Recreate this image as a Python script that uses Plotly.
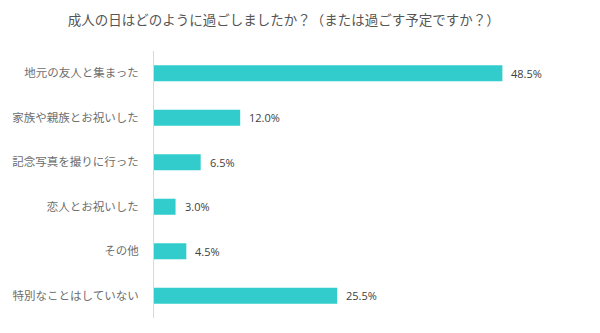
import plotly.graph_objects as go

# Survey answers (top to bottom) and share of respondents in %
categories = [
    "地元の友人と集まった",
    "家族や親族とお祝いした",
    "記念写真を撮りに行った",
    "恋人とお祝いした",
    "その他",
    "特別なことはしていない",
]
values = [48.5, 12.0, 6.5, 3.0, 4.5, 25.5]
title_text = "成人の日はどのように過ごしましたか？（または過ごす予定ですか？）"

BAR_COLOR = "#33CCCC"
JP_FONT = "Noto Sans CJK JP"

fig = go.Figure(
    go.Bar(
        x=values,
        y=categories,
        orientation="h",
        marker=dict(color=BAR_COLOR, line=dict(width=0)),
        width=0.36,
        hoverinfo="skip",
    )
)

# value labels just to the right of each bar end
for cat, val in zip(categories, values):
    fig.add_annotation(
        x=val, y=cat, text=f"{val:.1f}%",
        xanchor="left", yanchor="middle", xshift=7, showarrow=False,
        font=dict(family="Open Sans", size=11, color="#404040"),
    )

fig.update_layout(
    width=600, height=333,
    margin=dict(l=150, r=15, t=51, b=15),
    paper_bgcolor="white", plot_bgcolor="white",
    showlegend=False,
    title=dict(
        text=title_text, x=0.473, xanchor="center", y=0.94, yanchor="middle",
        font=dict(family=JP_FONT, size=13.5, color="#555555"),
    ),
)
fig.update_xaxes(range=[0, 60], visible=False, fixedrange=True)
fig.update_yaxes(
    autorange="reversed",
    showline=True, linecolor="#d9d9d9", linewidth=1,
    showgrid=False, ticks="", ticklabelstandoff=12,
    tickfont=dict(family=JP_FONT, size=11.5, color="#6e6e6e"),
    fixedrange=True,
)

fig.write_html("out.html")
